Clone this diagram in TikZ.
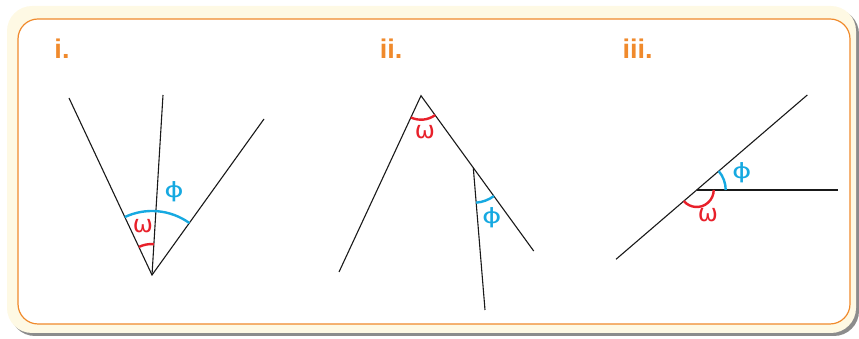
\documentclass[tikz,border=0pt]{standalone}
\usepackage{fontspec}
\setmainfont{Liberation Sans}
\newfontfamily\greekfont{DejaVu Sans}
\usetikzlibrary{positioning}
\definecolor{cardorange}{HTML}{F08A2C}
\definecolor{cardcream}{HTML}{FEF9E4}
\definecolor{cardshadow}{HTML}{8C8C8C}
\definecolor{omegared}{HTML}{E8202A}
\definecolor{phiblue}{HTML}{16A9E1}
\newcommand{\widephi}{\scalebox{1.4}[1]{ϕ}}

\begin{document}
\begin{tikzpicture}[
  x=1pt, y=1pt,
  edge/.style={draw=black!90, line width=1.1pt},
  omegaarc/.style={draw=omegared, line width=2.4pt},
  phiarc/.style={draw=phiblue, line width=2.4pt},
  omegalabel/.style={text=omegared, inner sep=0pt, font=\greekfont\fontsize{24}{24}\selectfont},
  philabel/.style={text=phiblue, inner sep=0pt, font=\greekfont\fontsize{21}{21}\selectfont},
  partlabel/.style={text=cardorange, inner sep=0pt, font=\bfseries\fontsize{27}{27}\selectfont}
]
  \useasboundingbox (0,0) rectangle (859,339);

  % Karta s ramečkem
  \fill[cardshadow, rounded corners=25pt] (10,3) rectangle (859,330);
  \fill[cardcream, rounded corners=25pt] (7,6) rectangle (856,333);
  \draw[cardorange, fill=white, line width=1.2pt, rounded corners=20pt] (18,15) rectangle (850,320);

  % (i) Tři polopřímky ze společného vrcholu
  \begin{scope}[shift={(0,0)}]
    \node[partlabel] (lbl1) at (62,290) {i.};
    \coordinate (v1) at (152,64);
    \coordinate (l1) at (69,241);
    \coordinate (m1) at (163,244);
    \coordinate (r1) at (264,220);

    \draw[edge] (l1) -- (v1) -- (r1);
    \draw[edge] (v1) -- (m1);

    \draw[phiarc] ([shift={(115.1:64)}]v1) arc[start angle=115.1, end angle=54.3, radius=64];
    \draw[omegaarc] ([shift={(115.1:31)}]v1) arc[start angle=115.1, end angle=86.5, radius=31];

    \node[omegalabel] (w1) at (143,113) {ω};
    \node[philabel] (f1) at (174,147) {\widephi};
  \end{scope}

  % (ii) Vrchol nahoře, příčka z pravého ramene
  \begin{scope}[shift={(0,0)}]
    \node[partlabel] (lbl2) at (391,290) {ii.};
    \coordinate (a2) at (421,243.3);
    \coordinate (l2) at (339,67);
    \coordinate (r2) at (533.7,88);
    \coordinate (p2) at (473.3,171.2);
    \coordinate (q2) at (485,29);

    \draw[edge] (l2) -- (a2) -- (r2);
    \draw[edge] (p2) -- (q2);

    \draw[omegaarc] ([shift={(245.1:24)}]a2) arc[start angle=245.1, end angle=306, radius=24];
    \draw[phiarc] ([shift={(274.7:35)}]p2) arc[start angle=274.7, end angle=306, radius=35];

    \node[omegalabel] (w2) at (425,207) {ω};
    \node[philabel] (f2) at (491.7,121) {\widephi};
  \end{scope}

  % (iii) Přímka a vodorovná polopřímka
  \begin{scope}[shift={(0,0)}]
    \node[partlabel] (lbl3) at (637.5,290) {iii.};
    \coordinate (c3) at (696.7,149);
    \coordinate (d3) at (616,79.7);
    \coordinate (u3) at (807.3,244);
    \coordinate (h3) at (838.3,149);

    \draw[edge] (d3) -- (u3);
    \draw[edge] (c3) -- (h3);

    \draw[phiarc] ([shift={(0:29)}]c3) arc[start angle=0, end angle=40.65, radius=29];
    \draw[omegaarc] ([shift={(220.65:17)}]c3) arc[start angle=220.65, end angle=360, radius=17];

    \node[philabel] (f3) at (741.7,166) {\widephi};
    \node[omegalabel] (w3) at (708,124) {ω};
  \end{scope}

\end{tikzpicture}
\end{document}
